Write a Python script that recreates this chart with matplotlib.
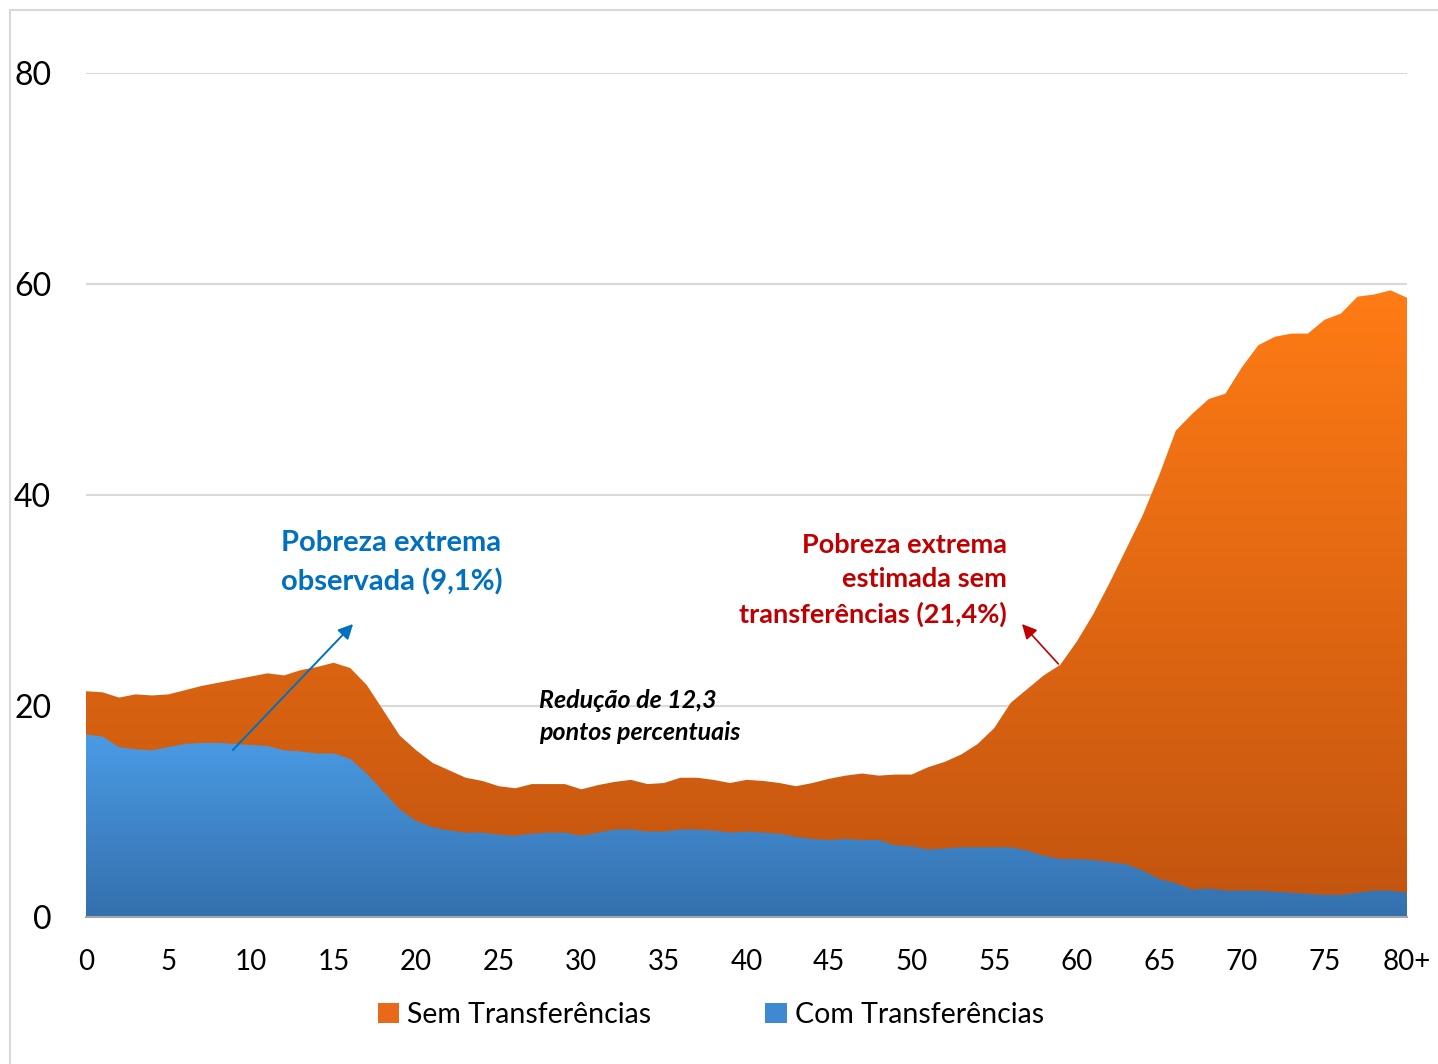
import numpy as np
import matplotlib.pyplot as plt
from matplotlib.colors import LinearSegmentedColormap
from matplotlib.lines import Line2D
from matplotlib.patches import Patch

plt.rcParams["font.family"] = ["Lato", "DejaVu Sans"]

# Dados (% em pobreza extrema por idade)
idade = np.arange(0, 81)
sem_transf = [21.4, 21.3, 20.8, 21.1, 21.0, 21.1, 21.5, 21.9, 22.2, 22.5,
              22.8, 23.1, 22.9, 23.4, 23.7, 24.1, 23.6, 22.0, 19.6, 17.2,
              15.8, 14.6, 13.9, 13.2, 12.9, 12.4, 12.2, 12.6, 12.6, 12.6,
              12.1, 12.5, 12.8, 13.0, 12.6, 12.7, 13.2, 13.2, 13.0, 12.7,
              13.0, 12.9, 12.7, 12.4, 12.7, 13.1, 13.4, 13.6, 13.4, 13.5,
              13.5, 14.2, 14.7, 15.4, 16.4, 17.9, 20.3, 21.6, 22.9, 23.9,
              26.1, 28.7, 31.7, 34.9, 38.1, 41.9, 46.1, 47.7, 49.1, 49.6,
              52.1, 54.2, 55.0, 55.3, 55.3, 56.6, 57.2, 58.8, 59.0, 59.4,
              58.7]
com_transf = [17.3, 17.1, 16.1, 15.9, 15.8, 16.1, 16.4, 16.5, 16.5, 16.4,
              16.3, 16.2, 15.8, 15.7, 15.5, 15.5, 15.0, 13.6, 11.9, 10.2,
              9.1, 8.5, 8.2, 8.0, 8.0, 7.8, 7.7, 7.9, 8.0, 8.0,
              7.7, 8.0, 8.3, 8.3, 8.1, 8.1, 8.3, 8.3, 8.2, 8.0,
              8.1, 8.0, 7.9, 7.6, 7.4, 7.3, 7.4, 7.3, 7.3, 6.8,
              6.7, 6.4, 6.5, 6.6, 6.6, 6.6, 6.6, 6.3, 5.8, 5.5,
              5.5, 5.4, 5.2, 5.0, 4.4, 3.6, 3.2, 2.6, 2.7, 2.5,
              2.5, 2.5, 2.4, 2.3, 2.2, 2.1, 2.1, 2.3, 2.5, 2.5,
              2.3]
xticks = list(range(0, 81, 5))
xtick_labels = [str(v) for v in xticks[:-1]] + ["80+"]
yticks = [0, 20, 40, 60, 80]


def preencher_gradiente(ax, x, y, cor_baixo, cor_topo, z):
    # area invisivel usada como mascara para uma imagem em degrade vertical
    area = ax.fill_between(x, 0, y, facecolor="none", lw=0, zorder=z)
    cmap = LinearSegmentedColormap.from_list("grad", [cor_baixo, cor_topo])
    grad = np.linspace(0, 1, 256).reshape(-1, 1)
    img = ax.imshow(grad, cmap=cmap, origin="lower", aspect="auto",
                    extent=[x[0], x[-1], 0, max(y)], zorder=z,
                    interpolation="bilinear")
    img.set_clip_path(area.get_paths()[0], ax.transData)


W, H = 1438, 1064
fig = plt.figure(figsize=(W / 100, H / 100), dpi=100)
ax = fig.add_axes([86 / W, 1 - 917 / H, (1407 - 86) / W, (917 - 73) / H])

preencher_gradiente(ax, idade, sem_transf, "#C2540F", "#FF7B15", 2)
preencher_gradiente(ax, idade, com_transf, "#3470AD", "#4A9BE5", 3)

ax.set_xlim(0, 80)
ax.set_ylim(0, 80)
ax.set_xticks(xticks)
ax.set_xticklabels(xtick_labels)
ax.set_yticks(yticks)
ax.tick_params(axis="x", length=0, labelsize=20, pad=23)
ax.tick_params(axis="y", length=0, labelsize=23, pad=25)
ax.yaxis.grid(True, color="#D9D9D9", lw=1.5)
ax.set_axisbelow(True)
for lado in ["top", "right", "left"]:
    ax.spines[lado].set_visible(False)
ax.spines["bottom"].set_color("#A6A6A6")
ax.spines["bottom"].set_linewidth(1.5)
ax.spines["bottom"].set_zorder(5)

# anotacoes
ax.text(11.81, 33.6, "Pobreza extrema\nobservada (9,1%)", color="#0070C0",
        fontsize=21, fontweight="bold", ha="left", va="center", linespacing=1.55)
ax.annotate("", xy=(16.29, 27.96), xytext=(8.78, 15.64),
            arrowprops=dict(arrowstyle="-|>", color="#0070C0", lw=1.4,
                            mutation_scale=22), zorder=6)

ax.text(55.78, 31.94, "Pobreza extrema\nestimada sem\ntransferências (21,4%)",
        color="#C00000", fontsize=19.5, fontweight="bold", ha="right",
        va="center", linespacing=1.5)
ax.annotate("", xy=(56.57, 27.96), xytext=(59.0, 23.79),
            arrowprops=dict(arrowstyle="-|>", color="#C00000", lw=1.2,
                            mutation_scale=22), zorder=6)

ax.text(27.44, 19.0, "Redução de 12,3\npontos percentuais", color="black",
        fontsize=18, fontweight="bold", fontstyle="italic", ha="left",
        va="center", linespacing=1.45, zorder=6)

# legenda
handles = [Patch(facecolor="#E8691A"), Patch(facecolor="#3E89D2")]
fig.legend(handles, ["Sem Transferências", "Com Transferências"],
           loc="center", bbox_to_anchor=(711 / W, 1 - 1015 / H), ncol=2,
           frameon=False, fontsize=20.5, handlelength=0.75, handleheight=0.75,
           handletextpad=0.3, columnspacing=4.0)

# moldura do grafico
fig.add_artist(Line2D([10 / W, 10 / W], [0, 1 - 10 / H], color="#D9D9D9",
                      lw=1.5, transform=fig.transFigure))
fig.add_artist(Line2D([10 / W, 1], [1 - 10 / H, 1 - 10 / H], color="#D9D9D9",
                      lw=1.5, transform=fig.transFigure))

fig.savefig("out.png", dpi=100)
